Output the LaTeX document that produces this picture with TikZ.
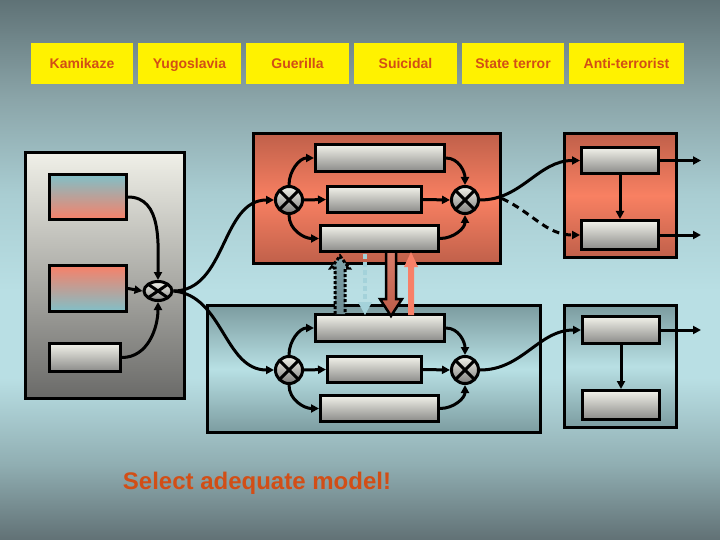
\documentclass[tikz,border=0pt]{standalone}
\usepackage{fontspec}
\setmainfont{Liberation Sans}
\usetikzlibrary{arrows.meta,shapes.geometric,calc}
\definecolor{bgT}{HTML}{5F7276}
\definecolor{bgA}{HTML}{8AA4A8}
\definecolor{bgC}{HTML}{A9CDD2}
\definecolor{bgL}{HTML}{B9DFE4}
\definecolor{bgD}{HTML}{90AEB2}
\definecolor{bgB}{HTML}{617175}
\definecolor{labc}{RGB}{210,78,22}
\definecolor{barT}{HTML}{F2F2EA}
\definecolor{barB}{HTML}{8A8A88}
\definecolor{panT}{HTML}{F0F0E8}
\definecolor{panB}{HTML}{6A6A68}
\definecolor{redE}{HTML}{C0604A}
\definecolor{redM}{HTML}{F88062}
\definecolor{tealE}{HTML}{7C9CA0}
\definecolor{tealM}{HTML}{B8E0E4}
\definecolor{cyanc}{HTML}{80C0C8}
\definecolor{salm}{HTML}{F88068}
\definecolor{hollowT}{HTML}{7FA4AC}
\definecolor{hollowB}{HTML}{6E8C92}
\definecolor{ltblue}{HTML}{A4D2DA}
\definecolor{darkred}{HTML}{D06650}
\pgfdeclareverticalshading{bgshade}{100bp}{color(0bp)=(bgB); color(25bp)=(bgB); color(32bp)=(bgD); color(40bp)=(bgL); color(48bp)=(bgL); color(57bp)=(bgC); color(66bp)=(bgA); color(75bp)=(bgT); color(100bp)=(bgT)}
\begin{document}
\begin{tikzpicture}[x=1pt,y=-1pt,
  box/.style={draw, line width=3pt, inner sep=0pt},
  bar/.style={box, top color=barT, bottom color=barB},
  redp/.style={box, top color=redE, bottom color=redE, middle color=redM},
  tealp/.style={box, top color=tealE, bottom color=tealE, middle color=tealM},
  lab/.style={fill=yellow, inner sep=0pt, minimum height=41pt, text=labc,
    font=\fontsize{14}{17}\selectfont\bfseries, text height=10pt, text depth=0pt},
  crossx/.style={path picture={\draw[line width=3pt]
    (path picture bounding box.north west)--(path picture bounding box.south east)
    (path picture bounding box.north east)--(path picture bounding box.south west);}},
  mult/.style={circle, draw, line width=3pt, minimum size=27pt, inner sep=0pt,
    top color=barT, bottom color=barB!90!black, crossx},
  conn/.style={line width=3pt, -{Triangle[length=8pt,width=8pt]}},
]
\useasboundingbox (0,0) rectangle (720,540);
\path[shading=bgshade] (0,0) rectangle (720,540);

% top labels
\node[lab, minimum width=102pt] (k) at (82,63.5) {Kamikaze};
\node[lab, minimum width=103pt] (y) at (189.5,63.5) {Yugoslavia};
\node[lab, minimum width=103pt] (g) at (297.5,63.5) {Guerilla};
\node[lab, minimum width=103pt] (s) at (405.5,63.5) {Suicidal};
\node[lab, minimum width=102pt] (st) at (513,63.5) {State terror};
\node[lab, minimum width=115pt] (at) at (626.5,63.5) {Anti-terrorist};

% left panel
\node[box, top color=panT, bottom color=panB, minimum width=159pt, minimum height=246pt] (LP) at (105,275.5) {};
\node[box, top color=cyanc, bottom color=salm, minimum width=77pt, minimum height=45pt] (L1) at (88,197) {};
\node[box, top color=salm, bottom color=cyanc, minimum width=77pt, minimum height=46pt] (L2) at (88,288.5) {};
\node[bar, minimum width=71pt, minimum height=28pt] (L3) at (85,357.5) {};
\node[ellipse, draw, line width=3pt, minimum width=28pt, minimum height=19pt, inner sep=0pt,
  top color=barT, bottom color=barB, crossx] (LM) at (158,291) {};

% red (top middle) panel
\node[redp, minimum width=247pt, minimum height=130pt] (RB) at (377,198.5) {};
\node[bar, minimum width=129pt, minimum height=27pt] (R1) at (380,158) {};
\node[bar, minimum width=94pt, minimum height=26pt] (R2) at (374.5,199.5) {};
\node[bar, minimum width=118pt, minimum height=26pt] (R3) at (379.5,238.5) {};
\node[mult] (RM1) at (289,200) {};
\node[mult] (RM2) at (465,200) {};

% teal (bottom middle) panel
\node[tealp, minimum width=333pt, minimum height=127pt] (BB) at (374,369) {};
\node[bar, minimum width=129pt, minimum height=27pt] (B1) at (380,328) {};
\node[bar, minimum width=94pt, minimum height=26pt] (B2) at (374.5,369.5) {};
\node[bar, minimum width=118pt, minimum height=26pt] (B3) at (379.5,408.5) {};
\node[mult] (BM1) at (289,370) {};
\node[mult] (BM2) at (465,370) {};

% state terror panel
\node[redp, minimum width=112pt, minimum height=124pt] (SB) at (620.5,195.5) {};
\node[bar, minimum width=77pt, minimum height=26pt] (S1) at (620,160.5) {};
\node[bar, minimum width=77pt, minimum height=29pt] (S2) at (620,235) {};

% anti-terrorist panel
\node[tealp, minimum width=112pt, minimum height=122pt] (AB) at (620.5,366.5) {};
\node[bar, minimum width=77pt, minimum height=27pt] (A1) at (621,330) {};
\node[bar, minimum width=77pt, minimum height=29pt] (A2) at (621,405) {};

% free ends
\coordinate (o1) at (701,160.5);
\coordinate (o2) at (701,235);
\coordinate (o3) at (701,330);

% left panel connectors
\draw[conn] (L1.east) to[out=0,in=90] (LM.north);
\draw[conn] (L2.east) -- (LM.west);
\draw[conn] (L3.east) to[out=0,in=-90] (LM.south);
\draw[conn] (LM.east) to[out=0,in=180] (RM1.west);
\draw[conn] (LM.east) to[out=-5,in=180] (BM1.west);

% red panel connectors
\draw[conn] (RM1.north) to[out=90,in=180] (R1.west);
\draw[conn] (RM1.east) -- (R2.west);
\draw[conn] (RM1.south) to[out=-90,in=180] (R3.west);
\draw[conn] (R1.east) to[out=0,in=90] (RM2.north);
\draw[conn] (R2.east) -- (RM2.west);
\draw[conn] (R3.east) to[out=0,in=-90] (RM2.south);

% teal panel connectors
\draw[conn] (BM1.north) to[out=90,in=180] (B1.west);
\draw[conn] (BM1.east) -- (B2.west);
\draw[conn] (BM1.south) to[out=-90,in=180] (B3.west);
\draw[conn] (B1.east) to[out=0,in=90] (BM2.north);
\draw[conn] (B2.east) -- (BM2.west);
\draw[conn] (B3.east) to[out=0,in=-90] (BM2.south);

% to right panels
\draw[conn] (RM2.east) to[out=0,in=180] (S1.west);
\draw[conn, dash pattern=on 7pt off 5pt] (RB.east) to[out=-25,in=180] (S2.west);
\draw[conn] (BM2.east) to[out=0,in=180] (A1.west);
\draw[conn] (S1.south) -- (S2.north);
\draw[conn] (A1.south) -- (A2.north);
\draw[conn] (S1.east) -- (o1);
\draw[conn] (S2.east) -- (o2);
\draw[conn] (A1.east) -- (o3);

% vertical exchange arrows between R3 and B1
\draw[top color=hollowT, bottom color=hollowB, line width=3pt, dash pattern=on 3pt off 2pt]
  (335,314) -- (335,268) -- (331,268) -- (340,256) -- (349,268) -- (345,268) -- (345,314);
\draw[ltblue, line width=4pt, dash pattern=on 5pt off 3pt] (365,254) -- (365,304);
\fill[ltblue] (358,302) -- (372,302) -- (365,315) -- cycle;
\draw[top color=darkred!85!white, bottom color=darkred!90!black, line width=2.5pt, line join=miter]
  (386,253) -- (386,299) -- (380,299) -- (391,316) -- (402,299) -- (396,299) -- (396,253);
\fill[salm] (408,315) -- (408,267) -- (404,267) -- (411,252) -- (418,267) -- (414,267) -- (414,315) -- cycle;

% bottom text
\node[anchor=base, text=labc, font=\fontsize{24}{28}\selectfont\bfseries] (sel) at (257,489) {Select adequate model!};
\end{tikzpicture}
\end{document}
